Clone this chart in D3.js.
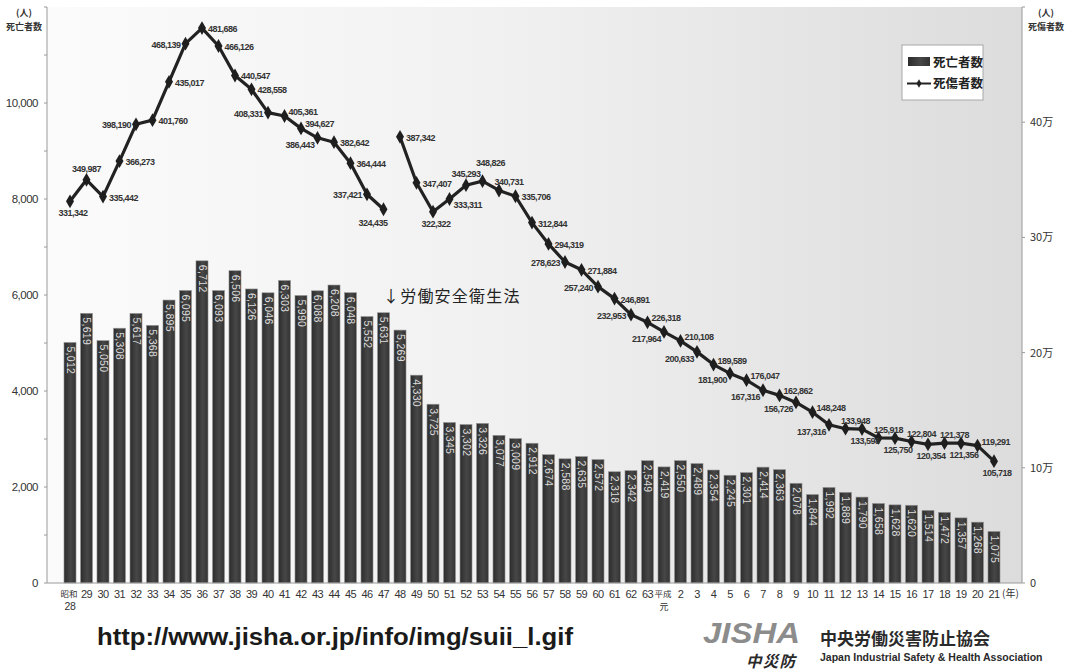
<!DOCTYPE html>
<html lang="ja">
<head>
<meta charset="utf-8">
<script src="https://cdn.jsdelivr.net/npm/d3@7"></script>
<style>
  html, body { margin: 0; padding: 0; background: #ffffff; }
  svg { display: block; }
  .num { font-family: "Liberation Sans", Arial, sans-serif; }
  .jp  { font-family: "Noto Sans CJK JP", "Noto Sans", sans-serif; }
</style>
</head>
<body>
<svg id="chart" width="1067" height="671"></svg>
<script>
// 年次（昭和28年〜平成21年）
const years = [
  "昭和28","29","30","31","32","33","34","35","36","37","38","39","40","41","42","43","44","45","46","47",
  "48","49","50","51","52","53","54","55","56","57","58","59","60","61","62","63",
  "平成元","2","3","4","5","6","7","8","9","10","11","12","13","14","15","16","17","18","19","20","21"
];

// 死亡者数（人）
const deaths = [
  5012, 5619, 5050, 5308, 5617, 5368, 5895, 6095, 6712, 6093, 6506, 6126, 6046, 6303, 5990, 6088, 6208, 6048, 5552, 5631,
  5269, 4330, 3725, 3345, 3302, 3326, 3077, 3009, 2912, 2674, 2588, 2635, 2572, 2318, 2342, 2549,
  2419, 2550, 2489, 2354, 2245, 2301, 2414, 2363, 2078, 1844, 1992, 1889, 1790, 1658, 1628, 1620, 1514, 1472, 1357, 1268, 1075
];

// 死傷者数（人）
const casualties = [
  331342, 349987, 335442, 366273, 398190, 401760, 435017, 468139, 481686, 466126, 440547, 428558, 408331, 405361, 394627, 386443, 382642, 364444, 337421, 324435,
  387342, 347407, 322322, 333311, 345293, 348826, 340731, 335706, 312844, 294319, 278623, 271884, 257240, 246891, 232953, 226318,
  217964, 210108, 200633, 189589, 181900, 176047, 167316, 162862, 156726, 148248, 137316, 133948, 133598, 125918, 125750, 122804, 120354, 121378, 121356, 119291, 105718
];

// 死傷者数の系列は昭和47年と48年の間で途切れる
const casualtyBreakAfter = "47";

// 軸の目盛
const leftTicks = [0, 2000, 4000, 6000, 8000, 10000];
const leftMinorTicks = [1000, 3000, 5000, 7000, 9000, 11000, 12000];
const rightTicks = [0, 100000, 200000, 300000, 400000];
const rightMinorTicks = [500000];

// 死傷者数ラベルの配置（点に対する向き）
const casualtyLabelSide = [
  "b","T","r","r","l","r","r","l","r","r","r","r","l","tr","tr","bl","r","r","l","bL",
  "r","r","b","br","T","TT","t","r","r","r","l","r","l","r","l","tr",
  "bl","tr","bl","tr","bl","tr","bl","tr","bl","tr","bl","t","b","t","b","t","b","t","b","tr","b"
];

const labelOffsets = {
  r:  { dx: 6,  dy: 4,   anchor: "start" },
  l:  { dx: -5, dy: 4,   anchor: "end" },
  t:  { dx: 10, dy: -5,  anchor: "middle" },
  T:  { dx: 0,  dy: -8,  anchor: "middle" },
  TT: { dx: 8,  dy: -15, anchor: "middle" },
  b:  { dx: 3,  dy: 15,  anchor: "middle" },
  bL: { dx: 4,  dy: 17,  anchor: "end" },
  tr: { dx: 4,  dy: -1,  anchor: "start" },
  bl: { dx: -3, dy: 10,  anchor: "end" },
  br: { dx: 4,  dy: 9,   anchor: "start" }
};

const svg = d3.select("#chart");
const plot = { left: 47, right: 1022, top: 7, bottom: 583 };

const x = d3.scaleBand()
  .domain(years)
  .range([61.75, 1002.25])
  .paddingInner(0.27)
  .paddingOuter(0.135);

const yLeft = d3.scaleLinear().domain([0, 12000]).range([plot.bottom, plot.top]);
const yRight = d3.scaleLinear().domain([0, 500000]).range([plot.bottom, plot.top]);

const defs = svg.append("defs");
const bg = defs.append("linearGradient").attr("id", "bgGrad").attr("x1", 0).attr("x2", 1).attr("y1", 0).attr("y2", 0);
bg.append("stop").attr("offset", "0%").attr("stop-color", "#fbfbfb");
bg.append("stop").attr("offset", "45%").attr("stop-color", "#f1f1f1");
bg.append("stop").attr("offset", "100%").attr("stop-color", "#dcdcdc");

const barGrad = defs.append("linearGradient").attr("id", "barGrad").attr("x1", 0).attr("x2", 1).attr("y1", 0).attr("y2", 0);
barGrad.append("stop").attr("offset", "0%").attr("stop-color", "#2c2c2c");
barGrad.append("stop").attr("offset", "55%").attr("stop-color", "#474747");
barGrad.append("stop").attr("offset", "100%").attr("stop-color", "#333333");

// 描画領域の背景
svg.append("rect")
  .attr("x", plot.left).attr("y", plot.top)
  .attr("width", plot.right - plot.left).attr("height", plot.bottom - plot.top)
  .attr("fill", "url(#bgGrad)");

// 死亡者数の棒
svg.append("g").selectAll("rect")
  .data(years)
  .join("rect")
  .attr("x", d => x(d))
  .attr("y", (d, i) => yLeft(deaths[i]))
  .attr("width", x.bandwidth())
  .attr("height", (d, i) => plot.bottom - yLeft(deaths[i]))
  .attr("fill", "url(#barGrad)")
  .attr("stroke", "#9a9a9a")
  .attr("stroke-width", 0.6);

// 棒の中の数値（縦書き）
svg.append("g").selectAll("text")
  .data(years)
  .join("text")
  .attr("class", "num")
  .attr("transform", (d, i) => `translate(${x(d) + x.bandwidth() / 2 - 3.5},${yLeft(deaths[i]) + 4}) rotate(90)`)
  .attr("font-size", 10.5)
  .attr("letter-spacing", 0.3)
  .attr("fill", "#dedede")
  .text((d, i) => d3.format(",")(deaths[i]));

// 左軸
const leftAxis = svg.append("g").attr("transform", `translate(${plot.left},0)`);
leftAxis.append("line").attr("y1", plot.top).attr("y2", plot.bottom).attr("stroke", "#9a9a9a");
leftAxis.selectAll(".minor").data(leftMinorTicks).join("line")
  .attr("x1", -3).attr("x2", 0).attr("y1", d => yLeft(d)).attr("y2", d => yLeft(d)).attr("stroke", "#9a9a9a");
leftAxis.selectAll(".major").data(leftTicks).join("line")
  .attr("x1", -3).attr("x2", 0).attr("y1", d => yLeft(d)).attr("y2", d => yLeft(d)).attr("stroke", "#9a9a9a");
leftAxis.selectAll("text").data(leftTicks).join("text")
  .attr("class", "num")
  .attr("x", -9).attr("y", d => yLeft(d) + 4)
  .attr("text-anchor", "end").attr("font-size", 11.5).attr("letter-spacing", -0.5).attr("fill", "#333")
  .text(d => d3.format(",")(d));

// 右軸
const rightAxis = svg.append("g").attr("transform", `translate(${plot.right},0)`);
rightAxis.append("line").attr("y1", plot.top).attr("y2", plot.bottom).attr("stroke", "#9a9a9a");
rightAxis.selectAll(".tick").data(rightTicks.concat(rightMinorTicks)).join("line")
  .attr("x1", 0).attr("x2", 3).attr("y1", d => yRight(d)).attr("y2", d => yRight(d)).attr("stroke", "#9a9a9a");
rightAxis.selectAll("text").data(rightTicks).join("text")
  .attr("class", "jp")
  .attr("x", 8).attr("y", d => yRight(d) + 4)
  .attr("font-size", 11).attr("fill", "#333")
  .text(d => d === 0 ? "0" : (d / 10000) + "万");

// 横軸
svg.append("line")
  .attr("x1", plot.left).attr("x2", plot.right)
  .attr("y1", plot.bottom).attr("y2", plot.bottom)
  .attr("stroke", "#9a9a9a");

const xLabels = svg.append("g");
years.forEach(y => {
  const cx = x(y) + x.bandwidth() / 2;
  const era = y.match(/^(昭和|平成)(.+)$/);
  if (era) {
    const isNum = /\d/.test(era[2]);
    xLabels.append("text").attr("class", "jp")
      .attr("x", cx - 1).attr("y", plot.bottom + 14)
      .attr("text-anchor", "middle").attr("font-size", 8.5).attr("fill", "#333").text(era[1]);
    xLabels.append("text").attr("class", isNum ? "num" : "jp")
      .attr("x", cx).attr("y", plot.bottom + 27)
      .attr("text-anchor", "middle").attr("font-size", isNum ? 10.5 : 9)
      .attr("letter-spacing", isNum ? -0.4 : 0).attr("fill", "#333").text(era[2]);
  } else {
    xLabels.append("text").attr("class", "num")
      .attr("x", cx).attr("y", plot.bottom + 15)
      .attr("text-anchor", "middle").attr("font-size", 11).attr("letter-spacing", -0.5)
      .attr("fill", "#333").text(y);
  }
});
xLabels.append("text").attr("class", "jp")
  .attr("x", x("21") + x.bandwidth() + 2).attr("y", plot.bottom + 14)
  .attr("font-size", 10).attr("fill", "#333").text("(年)");

// 死傷者数の折れ線（途切れ目ごとに分割）
const breakIdx = years.indexOf(casualtyBreakAfter);
const pts = years.map((y, i) => ({ y, v: casualties[i], i }));
const segments = [pts.slice(0, breakIdx + 1), pts.slice(breakIdx + 1)];
const line = d3.line()
  .x(d => x(d.y) + x.bandwidth() / 2)
  .y(d => yRight(d.v));

svg.append("g").selectAll("path")
  .data(segments)
  .join("path")
  .attr("d", line)
  .attr("fill", "none")
  .attr("stroke", "#222")
  .attr("stroke-width", 3.2)
  .attr("stroke-linejoin", "round");

svg.append("g").selectAll("path")
  .data(pts)
  .join("path")
  .attr("transform", d => `translate(${x(d.y) + x.bandwidth() / 2},${yRight(d.v)})`)
  .attr("d", d3.symbol(d3.symbolDiamond, 55))
  .attr("fill", "#1e1e1e");

// 死傷者数の数値ラベル
svg.append("g").selectAll("text")
  .data(pts)
  .join("text")
  .attr("class", "num")
  .each(function (d) {
    const o = labelOffsets[casualtyLabelSide[d.i]];
    d3.select(this)
      .attr("x", x(d.y) + x.bandwidth() / 2 + o.dx)
      .attr("y", yRight(d.v) + o.dy)
      .attr("text-anchor", o.anchor);
  })
  .attr("font-size", 9)
  .attr("font-weight", "bold")
  .attr("letter-spacing", -0.5)
  .attr("fill", "#333")
  .text(d => d3.format(",")(d.v));

// 注記
svg.append("text").attr("class", "jp")
  .attr("x", 383).attr("y", 302)
  .attr("font-size", 16).attr("letter-spacing", 1.2).attr("fill", "#222")
  .text("↓労働安全衛生法");

// 軸の見出し
const axisTitle = (cx, lines) => lines.forEach((t, k) => {
  svg.append("text").attr("class", "jp")
    .attr("x", cx).attr("y", 16 + k * 14)
    .attr("text-anchor", "middle").attr("font-size", 9).attr("font-weight", "bold")
    .attr("fill", "#333").text(t);
});
axisTitle(24, ["(人)", "死亡者数"]);
axisTitle(1046, ["(人)", "死傷者数"]);

// 凡例
const legend = svg.append("g").attr("transform", "translate(902,45)");
legend.append("rect").attr("width", 81).attr("height", 55)
  .attr("fill", "#ffffff").attr("stroke", "#a8a8a8");
legend.append("rect").attr("x", 6).attr("y", 12).attr("width", 22).attr("height", 9)
  .attr("fill", "url(#barGrad)");
legend.append("text").attr("class", "jp").attr("x", 31).attr("y", 22)
  .attr("font-size", 12.5).attr("font-weight", "bold").attr("fill", "#222").text("死亡者数");
legend.append("line").attr("x1", 5).attr("x2", 29).attr("y1", 38.5).attr("y2", 38.5)
  .attr("stroke", "#222").attr("stroke-width", 2);
legend.append("path").attr("transform", "translate(17,38.5)")
  .attr("d", d3.symbol(d3.symbolDiamond, 22)).attr("fill", "#222");
legend.append("text").attr("class", "jp").attr("x", 31).attr("y", 43)
  .attr("font-size", 12.5).attr("font-weight", "bold").attr("fill", "#222").text("死傷者数");

// 出典
svg.append("text")
  .attr("x", 97).attr("y", 645)
  .attr("font-family", "Liberation Sans, Arial, sans-serif")
  .attr("font-size", 23).attr("font-weight", "bold")
  .attr("textLength", 476).attr("lengthAdjust", "spacingAndGlyphs")
  .attr("fill", "#1a1a1a")
  .text("http://www.jisha.or.jp/info/img/suii_l.gif");

// ロゴ
svg.append("text")
  .attr("x", 703).attr("y", 643)
  .attr("font-family", "Liberation Sans, Arial, sans-serif")
  .attr("font-size", 29).attr("font-weight", "bold").attr("font-style", "italic")
  .attr("textLength", 97).attr("lengthAdjust", "spacingAndGlyphs")
  .attr("fill", "#8c8c8c").text("JISHA");
svg.append("text").attr("class", "jp")
  .attr("x", 746).attr("y", 667)
  .attr("font-size", 15.5).attr("font-weight", "bold").attr("font-style", "italic")
  .attr("letter-spacing", 1.3)
  .attr("fill", "#2a2a2a").text("中災防");
svg.append("text").attr("class", "jp")
  .attr("x", 820).attr("y", 645)
  .attr("font-size", 17).attr("font-weight", "bold")
  .attr("fill", "#2a2a2a").text("中央労働災害防止協会");
svg.append("text")
  .attr("x", 820).attr("y", 661)
  .attr("font-family", "Liberation Sans, Arial, sans-serif")
  .attr("font-size", 10.5).attr("font-weight", "bold")
  .attr("fill", "#2a2a2a").text("Japan Industrial Safety & Health Association");
</script>
</body>
</html>
